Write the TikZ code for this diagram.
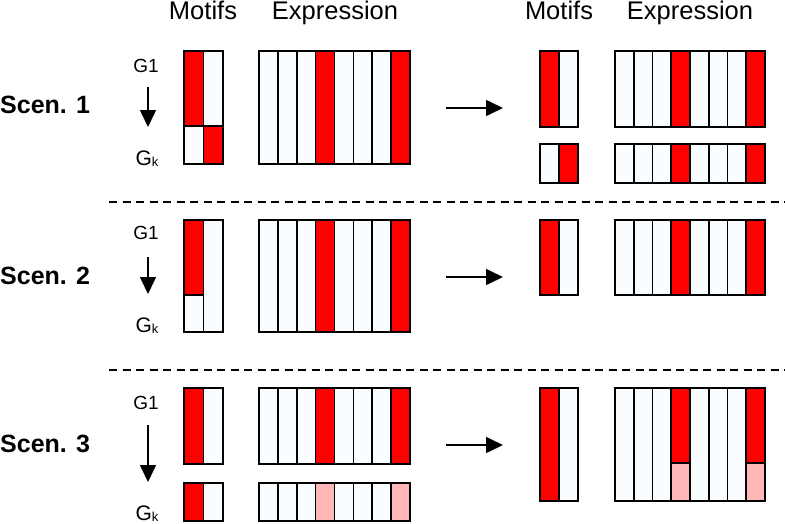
\documentclass[tikz,border=0pt]{standalone}
\usepackage{fontspec}
\setmainfont{Liberation Sans}
\usetikzlibrary{arrows.meta}
\definecolor{cellw}{RGB}{249,253,255}
\definecolor{cellr}{RGB}{255,0,0}
\definecolor{cellp}{RGB}{255,183,183}
\tikzset{
  cell/.style={draw=black,line width=1.7pt},
  head/.style={inner sep=0pt,anchor=base,font=\fontsize{25.5}{30}\selectfont},
  scen/.style={inner sep=0pt,anchor=base west,font=\fontsize{25}{30}\selectfont\bfseries},
  glab/.style={inner sep=0pt,anchor=base,font=\fontsize{19}{22}\selectfont},
  darrow/.style={line width=1.6pt,-{Triangle[length=17pt,width=16pt]}},
  sep/.style={line width=2pt,dash pattern=on 8pt off 5.5pt}
}
% expression row: x0, ytop, ybot, cell width, highlight colour
\newcommand\exprrow[5]{%
  \foreach \i/\c in {0/cellw,1/cellw,2/cellw,3/#5,4/cellw,5/cellw,6/cellw,7/#5}
    \draw[cell,fill=\c] ({#1+\i*#4},#2) rectangle ({#1+(\i+1)*#4},#3);
}
% motif cell: x0, ytop, x1, ybot, colour
\newcommand\mcell[5]{\draw[cell,fill=#5] (#1,#2) rectangle (#3,#4);}
\newcommand\gk{G\raisebox{-1.5pt}{\fontsize{13}{13}\selectfont k}}
\begin{document}
\begin{tikzpicture}[x=1pt,y=-1pt]
\useasboundingbox (0,0) rectangle (785,523);
% headings
\node[head] (hm1) at (203,19) {Motifs};
\node[head] (he1) at (335,19) {Expression};
\node[head] (hm2) at (559,19) {Motifs};
\node[head] (he2) at (690,19) {Expression};
% scenario labels
\node[scen] (s1) at (0,113) {Scen. 1};
\node[scen] (s2) at (0,284) {Scen. 2};
\node[scen] (s3) at (0,452) {Scen. 3};
% G labels
\node[glab] (g1a) at (146,72) {G1};
\node[glab] (gka) at (147,165) {\fontsize{21}{22}\selectfont\gk};
\node[glab] (g1b) at (146,239) {G1};
\node[glab] (gkb) at (147,332) {\fontsize{21}{22}\selectfont\gk};
\node[glab] (g1c) at (146,409) {G1};
\node[glab] (gkc) at (147,520) {\fontsize{21}{22}\selectfont\gk};
% vertical arrows
\coordinate (va1) at (148,87);  \coordinate (vb1) at (148,127);
\coordinate (va2) at (148,257); \coordinate (vb2) at (148,294);
\coordinate (va3) at (148,425); \coordinate (vb3) at (148,482);
\draw[darrow] (va1) -- (vb1);
\draw[darrow] (va2) -- (vb2);
\draw[darrow] (va3) -- (vb3);
% horizontal arrows
\coordinate (ha1) at (446,108); \coordinate (hb1) at (503,108);
\coordinate (ha2) at (446,277); \coordinate (hb2) at (503,277);
\coordinate (ha3) at (446,445); \coordinate (hb3) at (503,445);
\draw[darrow] (ha1) -- (hb1);
\draw[darrow] (ha2) -- (hb2);
\draw[darrow] (ha3) -- (hb3);
% separators
\coordinate (d1a) at (109,202); \coordinate (d1b) at (785,202);
\coordinate (d2a) at (109,370); \coordinate (d2b) at (785,370);
\draw[sep] (d1a) -- (d1b);
\draw[sep] (d2a) -- (d2b);

% ===== Scenario 1 =====
\mcell{184}{51}{203.5}{126}{cellr}
\mcell{203.5}{51}{223}{126}{cellw}
\mcell{184}{126}{203.5}{164}{cellw}
\mcell{203.5}{126}{223}{164}{cellr}
\exprrow{259}{51}{164}{18.875}{cellr}
\mcell{540}{51}{559}{127}{cellr}
\mcell{559}{51}{578}{127}{cellw}
\mcell{540}{144}{559}{183}{cellw}
\mcell{559}{144}{578}{183}{cellr}
\exprrow{615}{51}{127}{18.75}{cellr}
\exprrow{615}{144}{183}{18.75}{cellr}

% ===== Scenario 2 =====
\mcell{184}{220}{203.5}{295}{cellr}
\mcell{184}{295}{203.5}{332}{cellw}
\mcell{203.5}{220}{223}{332}{cellw}
\exprrow{259}{220}{332}{18.875}{cellr}
\mcell{540}{220}{559}{295}{cellr}
\mcell{559}{220}{578}{295}{cellw}
\exprrow{615}{220}{295}{18.75}{cellr}

% ===== Scenario 3 =====
\mcell{184}{388}{203.5}{464}{cellr}
\mcell{203.5}{388}{223}{464}{cellw}
\mcell{184}{483}{203.5}{521}{cellr}
\mcell{203.5}{483}{223}{521}{cellw}
\exprrow{259}{388}{464}{18.875}{cellr}
\exprrow{259}{483}{521}{18.875}{cellp}
\mcell{540}{388}{559}{501}{cellr}
\mcell{559}{388}{578}{501}{cellw}
\exprrow{615}{388}{501}{18.75}{cellr}
\mcell{671.25}{463}{690}{501}{cellp}
\mcell{746.25}{463}{765}{501}{cellp}
\end{tikzpicture}
\end{document}
